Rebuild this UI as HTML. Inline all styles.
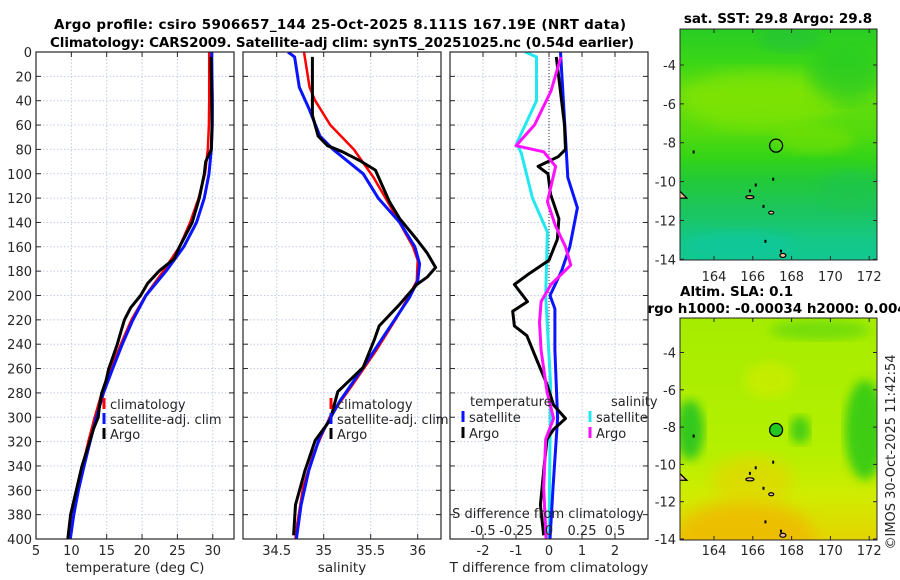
<!DOCTYPE html>
<html><head><meta charset="utf-8"><style>
html,body{margin:0;padding:0;background:#fff;}
svg{display:block;font-family:"DejaVu Sans","Liberation Sans",sans-serif;}
</style></head><body>
<svg id="fig" width="900" height="580" viewBox="0 0 900 580" xmlns="http://www.w3.org/2000/svg">
<defs>
<linearGradient id="sstBase" x1="0" y1="0" x2="0" y2="1">
<stop offset="0" stop-color="#28cc24"/><stop offset="0.14" stop-color="#3ad618"/>
<stop offset="0.28" stop-color="#66de0c"/><stop offset="0.45" stop-color="#52da0e"/>
<stop offset="0.56" stop-color="#33d418"/><stop offset="0.66" stop-color="#22c93a"/>
<stop offset="0.8" stop-color="#1bc562"/><stop offset="0.92" stop-color="#14c888"/>
<stop offset="1" stop-color="#12c890"/></linearGradient>
<linearGradient id="slaBase" x1="0" y1="0" x2="0" y2="1">
<stop offset="0" stop-color="#a6ec00"/><stop offset="0.6" stop-color="#b4f000"/>
<stop offset="0.8" stop-color="#d0ec00"/><stop offset="1" stop-color="#e4d400"/></linearGradient>
<filter id="blur8"><feGaussianBlur stdDeviation="8"/></filter>
<filter id="blur5"><feGaussianBlur stdDeviation="5"/></filter>
<clipPath id="clipTop"><rect x="680" y="29" width="197" height="231"/></clipPath>
<clipPath id="clipBot"><rect x="680" y="318" width="197" height="222"/></clipPath>
<clipPath id="clipP1"><rect x="36" y="52" width="198" height="487"/></clipPath>
<clipPath id="clipP2"><rect x="243" y="52" width="198" height="487"/></clipPath>
<clipPath id="clipP3"><rect x="450" y="52" width="198" height="487"/></clipPath>
</defs>
</svg>
<script>
// ---- data ----
const depthTicks = [0,20,40,60,80,100,120,140,160,180,200,220,240,260,280,300,320,340,360,380,400];
const tDepth = [0,20,40,60,80,100,120,140,160,180,200,220,240,260,280,300,320,340,360,380,400];
const tClim = [29.5,29.5,29.5,29.45,29.3,28.9,28.0,26.8,25.3,23.0,20.5,18.5,17.0,15.6,14.3,13.3,12.4,11.6,10.9,10.3,9.8];
const tSat = [29.85,29.9,29.95,29.93,29.8,29.47,28.8,27.7,25.9,23.4,20.55,18.7,17.2,15.85,14.55,13.55,12.65,11.8,11.0,10.35,9.85];
const tArgoDepth = [4,20,40,60,80,90,100,120,140,160,170,180,190,200,210,220,230,240,250,260,270,280,290,300,310,320,340,360,380,400];
const tArgo = [29.75,29.8,29.85,29.9,29.8,29.0,28.8,28.1,27.1,25.3,24.5,22.4,20.8,19.8,18.4,17.5,17.0,16.5,15.9,15.3,14.9,14.3,14.0,13.8,13.1,12.6,11.5,10.7,9.9,9.5];
const sClimDepth = [0,29,40,60,80,103,131,160,171,188,200,219,245,273,299,330,358,392,400];
const sClim = [34.79,34.85,34.91,35.07,35.32,35.53,35.74,35.95,36.0,35.99,35.91,35.77,35.56,35.31,35.07,34.89,34.78,34.71,34.70];
const sSatDepth = [0,4,29,46,69,80,100,120,140,160,174,188,202,231,259,287,316,344,372,400];
const sSat = [34.62,34.69,34.74,34.84,34.96,35.1,35.42,35.58,35.81,35.97,36.02,36.0,35.91,35.66,35.42,35.17,34.96,34.84,34.76,34.71];
const sArgoDepth = [4,52,69,77,82,89,97,123,137,154,165,177,185,191,208,225,236,259,279,302,319,344,372,397];
const sArgo = [34.88,34.88,34.94,35.04,35.2,35.38,35.55,35.7,35.81,35.99,36.1,36.19,36.1,35.99,35.8,35.59,35.54,35.42,35.15,35.07,34.91,34.8,34.7,34.68];
const dTSatDepth = [0,60,103,128,160,180,200,211,245,301,358,400];
const dTSat = [0.35,0.48,0.57,0.86,0.63,0.38,0.03,0.18,0.18,0.26,0.12,0.03];
const dTArgoDepth = [4,60,80,86,94,100,117,137,154,171,182,191,205,213,225,233,253,273,290,301,310,318,344,372,397];
const dTArgo = [0.22,0.47,0.5,0.28,-0.33,-0.03,0.05,0.3,0.25,0.0,-0.6,-1.05,-0.65,-1.1,-1.05,-0.67,-0.37,-0.06,0.14,0.5,0.14,-0.06,-0.16,-0.26,-0.16];
const dSSatDepth = [0,4,40,75,83,120,148,200,273,400];
const dSSat = [-0.18,-0.095,-0.095,-0.245,-0.21,-0.125,-0.012,-0.025,0.012,0.0];
const dSArgoDepth = [4,32,60,77,82,94,123,143,160,175,191,205,222,245,279,301,318,358,400];
const dSArgo = [0.09,0.015,-0.11,-0.25,-0.04,0.05,-0.012,0.05,0.125,0.165,0.015,-0.06,-0.072,-0.06,-0.015,0.035,-0.025,-0.04,-0.022];
const tTicks = [5,10,15,20,25,30];
const sTicks = [34.5,35,35.5,36];
const dTTicks = [-2,-1,0,1,2];
const dSTicks = [-0.5,-0.25,0,0.25,0.5];
const dSTickLabels = ["-0.5","-0.25","0","0.25","0.5"];
const lonTicks = [164,166,168,170,172];
const latTicks = [-4,-6,-8,-10,-12,-14];
const argoLon = 167.2, argoLat = -8.15;

// ---- scales ----
const yD = d => 52 + d * (487/400);
const xT = t => 36 + (t - 5) * 7.07;
const xS = s => 276.7 + (s - 34.5) * 94;
const xDT = v => 549 + v * 33;
const xDS = s => 549 + s * 132;
const xLon = l => 714 + (l - 164) * 19.4;
const yLatTop = l => 65 + (-4 - l) * 19.43;
const yLatBot = l => 318 + (-2.15 - l) * 18.65;

const svg = document.getElementById('fig');
const NS = 'http://www.w3.org/2000/svg';
function el(tag, attrs, parent) {
  const e = document.createElementNS(NS, tag);
  for (const k in attrs) e.setAttribute(k, attrs[k]);
  (parent || svg).appendChild(e);
  return e;
}
function txt(str, x, y, size, anchor, weight, parent) {
  const t = el('text', {x: x, y: y, 'font-size': size, 'text-anchor': anchor || 'start', 'font-weight': weight || 'normal', fill: '#262626'}, parent);
  t.textContent = str;
  return t;
}

// ---- maps ----
const tTop = txt('sat. SST: 29.8 Argo: 29.8', 778, 23, 13.5, 'middle', 'bold');
tTop.setAttribute('fill', '#000');


const tAlt = txt('Altim. SLA: 0.1', 680, 296, 13.5, 'start', 'bold');
tAlt.setAttribute('fill', '#000');


const tH = txt('Argo h1000: -0.00034 h2000: 0.004', 637, 313, 13.5, 'start', 'bold');
tH.setAttribute('fill', '#000');



const gTop = el('g', {'clip-path': 'url(#clipTop)'});


el('rect', {x: 680, y: 29, width: 197, height: 231, fill: 'url(#sstBase)'}, gTop);
el('ellipse', {cx: 760, cy: 100, rx: 80, ry: 30, fill: '#8ce600', opacity: 0.6, filter: 'url(#blur8)'}, gTop);
el('ellipse', {cx: 815, cy: 140, rx: 40, ry: 14, fill: '#7ee204', opacity: 0.5, filter: 'url(#blur5)'}, gTop);
el('ellipse', {cx: 845, cy: 75, rx: 35, ry: 28, fill: '#22c828', opacity: 0.6, filter: 'url(#blur8)'}, gTop);
el('ellipse', {cx: 790, cy: 40, rx: 30, ry: 12, fill: '#20c040', opacity: 0.5, filter: 'url(#blur5)'}, gTop);
el('ellipse', {cx: 740, cy: 245, rx: 55, ry: 14, fill: '#0fc6a0', opacity: 0.6, filter: 'url(#blur5)'}, gTop);
el('ellipse', {cx: 850, cy: 190, rx: 30, ry: 20, fill: '#1cc450', opacity: 0.5, filter: 'url(#blur5)'}, gTop);

const gBot = el('g', {'clip-path': 'url(#clipBot)'});


el('rect', {x: 680, y: 318, width: 197, height: 222, fill: 'url(#slaBase)'}, gBot);
el('ellipse', {cx: 745, cy: 540, rx: 70, ry: 40, fill: '#f0b800', opacity: 0.8, filter: 'url(#blur8)'}, gBot);
el('ellipse', {cx: 752, cy: 480, rx: 40, ry: 25, fill: '#e8d000', opacity: 0.6, filter: 'url(#blur8)'}, gBot);
el('ellipse', {cx: 690, cy: 430, rx: 14, ry: 30, fill: '#28c420', opacity: 0.9, filter: 'url(#blur5)'}, gBot);
el('ellipse', {cx: 865, cy: 430, rx: 20, ry: 50, fill: '#30ca18', opacity: 0.9, filter: 'url(#blur5)'}, gBot);
el('ellipse', {cx: 800, cy: 430, rx: 10, ry: 14, fill: '#30c818', opacity: 0.85, filter: 'url(#blur5)'}, gBot);
el('ellipse', {cx: 820, cy: 330, rx: 50, ry: 10, fill: '#60d810', opacity: 0.7, filter: 'url(#blur5)'}, gBot);
el('ellipse', {cx: 770, cy: 380, rx: 25, ry: 18, fill: '#d4ec00', opacity: 0.6, filter: 'url(#blur5)'}, gBot);

function islands(parent, yL) {
  const tri = el('polygon', {points: [xLon(162.2)+','+yL(-10.45), xLon(162.6)+','+yL(-10.85), xLon(162.2)+','+yL(-10.85)].join(' '), fill: '#f0c090', stroke: '#000', 'stroke-width': 1.3}, parent);
  
  
  [[165.85,-10.8,4,1.5],[166.95,-11.6,2.5,1.5],[167.55,-13.8,3,2]].forEach(p => {
    const isl = el('ellipse', {cx: xLon(p[0]), cy: yL(p[1]), rx: p[2], ry: p[3], fill: '#f0c090', stroke: '#000', 'stroke-width': 1.2}, parent);
    
    
  });
  [[167.0,-9.8],[165.8,-10.4],[166.5,-11.2],[166.6,-13.0],[162.9,-8.4],[167.4,-13.5],[166.1,-10.1]].forEach(p => {
    const d = el('rect', {x: xLon(p[0]), y: yL(p[1]), width: 2, height: 3, fill: '#000'}, parent);
    
    
  });
}
islands(gTop, yLatTop);
islands(gBot, yLatBot);

const c1 = el('circle', {cx: xLon(argoLon), cy: yLatTop(argoLat), r: 6.5, fill: 'none', stroke: '#000', 'stroke-width': 1.3});


const c2 = el('circle', {cx: xLon(argoLon), cy: yLatBot(argoLat), r: 6.5, fill: '#22c820', stroke: '#000', 'stroke-width': 1.3});



function mapAxes(top, bot, yL, lblY, name) {
  const fr = el('rect', {x: 680, y: top, width: 197, height: bot - top, fill: 'none', stroke: '#262626', 'stroke-width': 1});
  
  
  lonTicks.forEach(l => {
    const x = xLon(l);
    el('line', {x1: x, y1: bot, x2: x, y2: bot - 4, stroke: '#262626'});
    el('line', {x1: x, y1: top, x2: x, y2: top + 4, stroke: '#262626'});
    const t = txt(String(l), x, lblY, 13, 'middle');
    
    
  });
  latTicks.forEach(l => {
    const y = yL(l);
    el('line', {x1: 680, y1: y, x2: 684, y2: y, stroke: '#262626'});
    el('line', {x1: 877, y1: y, x2: 873, y2: y, stroke: '#262626'});
    const t = txt(String(l), 676, y + 5, 13, 'end');
    
    
  });
}
mapAxes(29, 260, yLatTop, 281, 'sst-map');
mapAxes(318, 540, yLatBot, 555, 'sla-map');

const cp = txt('©IMOS 30-Oct-2025 11:42:54', 0, 0, 13, 'middle');
cp.setAttribute('transform', 'translate(895,452) rotate(-90)');



// ---- titles ----
const t1 = txt('Argo profile: csiro 5906657_144 25-Oct-2025 8.111S 167.19E (NRT data)', 340, 29, 13.5, 'middle', 'bold');
t1.setAttribute('fill', '#000');
t1.setAttribute('textLength', '572');


const t2 = txt('Climatology: CARS2009. Satellite-adj clim: synTS_20251025.nc (0.54d earlier)', 342, 47, 13.5, 'middle', 'bold');
t2.setAttribute('fill', '#000');
t2.setAttribute('textLength', '584');



// ---- profile panels ----
function panel(x0, name, xTicksArr, xf, labels, showY, clip) {
  const g = el('g', {});
  
  
  el('rect', {x: x0, y: 52, width: 198, height: 487, fill: '#fff'}, g);
  depthTicks.forEach(d => {
    el('line', {x1: x0, y1: yD(d), x2: x0 + 198, y2: yD(d), stroke: '#c4cce8', 'stroke-dasharray': '1.5,2'}, g);
  });
  xTicksArr.forEach(v => {
    el('line', {x1: xf(v), y1: 52, x2: xf(v), y2: 539, stroke: '#c4cce8', 'stroke-dasharray': '1.5,2'}, g);
  });
  depthTicks.forEach(d => {
    el('line', {x1: x0, y1: yD(d), x2: x0 + 5, y2: yD(d), stroke: '#262626'}, g);
    el('line', {x1: x0 + 198, y1: yD(d), x2: x0 + 193, y2: yD(d), stroke: '#262626'}, g);
    if (showY) {
      const t = txt(String(d), x0 - 4, yD(d) + 5, 13, 'end', 'normal', g);
      
      
    }
  });
  xTicksArr.forEach((v, i) => {
    el('line', {x1: xf(v), y1: 539, x2: xf(v), y2: 534, stroke: '#262626'}, g);
    el('line', {x1: xf(v), y1: 52, x2: xf(v), y2: 57, stroke: '#262626'}, g);
    const t = txt(labels ? labels[i] : String(v), xf(v), 555, 13, 'middle', 'normal', g);
    
    
  });
  const lines = el('g', {'clip-path': 'url(#' + clip + ')'}, g);
  const fr = el('rect', {x: x0, y: 52, width: 198, height: 487, fill: 'none', stroke: '#262626', 'stroke-width': 1.2});
  
  
  return lines;
}
function series(parent, vals, depths, xf, color, w, name) {
  const pts = vals.map((v, i) => xf(v).toFixed(1) + ',' + yD(depths[i]).toFixed(1)).join(' ');
  const p = el('polyline', {points: pts, fill: 'none', stroke: color, 'stroke-width': w, 'stroke-linejoin': 'round'}, parent);
  
  
}
function legendItem(x, y, color, label) {
  const m = el('rect', {x: x - 1.5, y: y - 6, width: 3, height: 11, fill: color});
  
  
  const t = txt(label, x + 6, y + 5, 13, 'start');
  
  
}

// panel 1
const L1 = panel(36, 'temperature-panel', tTicks, xT, null, true, 'clipP1');
series(L1, tClim, tDepth, xT, '#ff0000', 2.5, 'temperature-climatology-line');
series(L1, tSat, tDepth, xT, '#0a14ff', 3, 'temperature-satellite-line');
series(L1, tArgo, tArgoDepth, xT, '#000', 3, 'temperature-argo-line');
legendItem(104, 404, '#ff0000', 'climatology');
legendItem(104, 419, '#0a14ff', 'satellite-adj. clim');
legendItem(104, 434, '#000', 'Argo');
const xl1 = txt('temperature (deg C)', 135, 572, 13.5, 'middle');



// panel 2
const L2 = panel(243, 'salinity-panel', sTicks, xS, null, false, 'clipP2');
series(L2, sClim, sClimDepth, xS, '#ff0000', 2.5, 'salinity-climatology-line');
series(L2, sSat, sSatDepth, xS, '#0a14ff', 3, 'salinity-satellite-line');
series(L2, sArgo, sArgoDepth, xS, '#000', 3, 'salinity-argo-line');
legendItem(331, 404, '#ff0000', 'climatology');
legendItem(331, 419, '#0a14ff', 'satellite-adj. clim');
legendItem(331, 434, '#000', 'Argo');
const xl2 = txt('salinity', 342, 572, 13.5, 'middle');



// panel 3
const L3 = panel(450, 'difference-panel', dTTicks, xDT, null, false, 'clipP3');
const zl = el('line', {x1: 549, y1: 52, x2: 549, y2: 539, stroke: '#333', 'stroke-dasharray': '1,2', 'stroke-width': 1}, L3);


series(L3, dSSat, dSSatDepth, xDS, '#22e8f0', 3, 'salinity-diff-satellite-line');
series(L3, dTSat, dTSatDepth, xDT, '#0a14ff', 3, 'temperature-diff-satellite-line');
series(L3, dTArgo, dTArgoDepth, xDT, '#000', 3, 'temperature-diff-argo-line');
series(L3, dSArgo, dSArgoDepth, xDS, '#ff10ff', 3, 'salinity-diff-argo-line');
const lt = txt('temperature', 470, 406, 13, 'start');


const ls = txt('salinity', 611, 406, 13, 'start');


legendItem(463, 417, '#0a14ff', 'satellite');
legendItem(463, 433, '#000', 'Argo');
legendItem(590, 417, '#22e8f0', 'satellite');
legendItem(590, 433, '#ff10ff', 'Argo');
const sdt = txt('S difference from climatology', 548, 518, 13, 'middle');


dSTicks.forEach((v, i) => {
  const t = txt(dSTickLabels[i], xDS(v), 535, 13, 'middle');
  
  
});
const xl3 = txt('T difference from climatology', 549, 572, 13.5, 'middle');


</script>
</body></html>
